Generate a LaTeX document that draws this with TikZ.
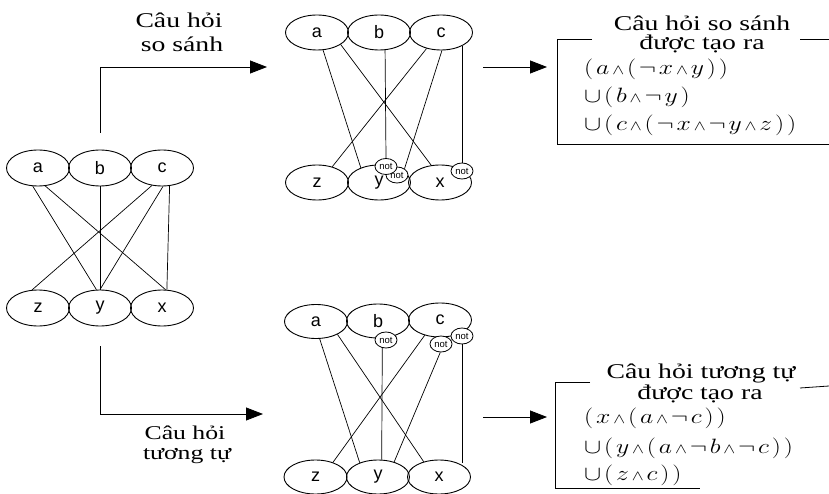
\documentclass[tikz,border=0pt]{standalone}
\usepackage{fontspec}
\setmainfont{Liberation Serif}[FakeStretch=1.32]
\newfontfamily\vertexfont{Liberation Sans}
\usepackage{graphicx}
\usetikzlibrary{arrows.meta,shapes.geometric}

\tikzset{
  vertex/.style={ellipse, draw, line width=0.9pt, minimum width=63pt,
    minimum height=35pt, inner sep=0pt,
    font=\vertexfont\fontsize{18}{18}\selectfont},
  negation/.style={ellipse, draw, fill=white, line width=0.8pt,
    minimum width=22pt, minimum height=16pt, inner sep=0pt,
    font=\vertexfont\fontsize{9.5}{9.5}\selectfont},
  link/.style={line width=0.7pt},
  flow/.style={line width=0.8pt, -{Triangle[length=17pt,width=13pt]}},
  caption/.style={anchor=base, inner sep=0pt,
    font=\fontsize{21}{25}\selectfont},
  formula/.style={anchor=base west, inner sep=0pt,
    font=\fontsize{20.74}{24}\selectfont},
  frame/.style={line width=0.8pt},
}

% loosely spaced formulas with a small conjunction sign
\newcommand{\kk}{\mkern2mu}
\newcommand{\conj}{{\scriptstyle\wedge}}
\newcommand{\wideformula}[1]{\scalebox{1.24}[1]{$#1$}}

\begin{document}
\begin{tikzpicture}[x=1pt,y=-1pt]
\useasboundingbox (0,0) rectangle (829,494);

% ---- original query graph (left)
\node[vertex, minimum height=36pt] (La) at (38,168)  {a};
\node[vertex, minimum height=36pt] (Lb) at (100,168) {b};
\node[vertex, minimum height=36pt] (Lc) at (162,168) {c};
\node[vertex, minimum height=36pt] (Lz) at (38,308)  {z};
\node[vertex, minimum height=36pt] (Ly) at (100,308) {y};
\node[vertex, minimum height=36pt] (Lx) at (162,308) {x};

\draw[link] (La.-106) -- (Ly.101);
\draw[link] (La.-68)  -- (Lx.79);
\draw[link] (Lb.-90)  -- (Ly.90);
\draw[link] (Lc.-120) -- (Lz.108);
\draw[link] (Lc.-87)  -- (Ly.90);
\draw[link] (Lc.-67)  -- (Lx.75);

% ---- comparison graph (top)
\node[vertex] (Ca) at (317,32.5)  {a};
\node[vertex] (Cb) at (379,32.5)  {b};
\node[vertex] (Cc) at (441,32.5)  {c};
\node[vertex] (Cz) at (317,182.5) {z};
\node[vertex] (Cy) at (379,182.5) {y};
\node[vertex] (Cx) at (440,182.5) {x};
\node[negation] (Cn2) at (397,175)   {not};
\node[negation] (Cn1) at (386,166.5) {not};
\node[negation] (Cn3) at (462,171)   {not};

\draw[link] (Ca.-71)  -- (Cy.141);
\draw[link] (Ca.-27)  -- (Cx.117);
\draw[link] (Cb.-71)  -- (Cn1.north);
\draw[link] (Cc.-132) -- (Cz.46);
\draw[link] (Cc.-87)  -- (Cn2.40);
\draw[link] (Cc.-35 -| Cn3.north) -- (Cn3.north);

% ---- similarity graph (bottom)
\node[vertex, minimum height=34pt] (Sa) at (316,321.5) {a};
\node[vertex, minimum height=34pt] (Sb) at (378,321)   {b};
\node[vertex, minimum height=34pt] (Sc) at (440,320)   {c};
\node[vertex, minimum height=34pt] (Sz) at (315.5,477) {z};
\node[vertex, minimum height=34pt] (Sy) at (378,477)   {y};
\node[vertex, minimum height=34pt] (Sx) at (439,477)   {x};
\node[negation] (Sn1) at (386,340) {not};
\node[negation] (Sn2) at (441,344) {not};
\node[negation] (Sn3) at (462,336) {not};

\draw[link] (Sa.-78)  -- (Sy.142);
\draw[link] (Sa.-31)  -- (Sx.135);
\draw[link] (Sn1.-115) -- (Sy.78);
\draw[link] (Sc.-135) -- (Sz.40);
\draw[link] (Sn2.-95) -- (Sy.43);
\draw[link] (Sn3.south) -- (Sn3.south |- Sx.35);

% ---- flow arrows
\coordinate (Cin)  at (267,67);
\coordinate (Sin)  at (263,414);
\coordinate (Cout) at (483,67);
\coordinate (Cres) at (547,67);
\coordinate (Sout) at (483,417);
\coordinate (Sres) at (547,417);

\draw[flow] ([yshift=17pt]Lb.north) |- (Cin);
\draw[flow] ([yshift=-20pt]Ly.south) |- (Sin);
\draw[flow] (Cout) -- (Cres);
\draw[flow] (Sout) -- (Sres);

% ---- captions on the arrows
\node[caption] (capC1) at (179,28)  {Câu hỏi};
\node[caption] (capC2) at (182,52)  {so sánh};
\node[caption, font=\fontsize{19.5}{22}\selectfont] (capS1) at (185,439) {Câu hỏi};
\node[caption, font=\fontsize{19.5}{22}\selectfont] (capS2) at (187,459) {tương tự};

% ---- generated comparison query
\draw[frame] (592,39.3) -- (557,39.3) -- (557,144) -- (829,144);
\draw[frame] (800,39.3) -- (829,39.3);
\node[caption] (resC1) at (702,31)   {Câu hỏi so sánh};
\node[caption] (resC2) at (702,50)   {được tạo ra};
\node[formula] (fC1) at (584,75) {\wideformula{(\kk a\kk\conj\kk(\kk\neg\kk x\kk\conj\kk y\kk)\kk)}};
\node[formula] (fC2) at (584,102.5) {\wideformula{\cup\kk(\kk b\kk\conj\kk\neg\kk y\kk)}};
\node[formula] (fC3) at (584,130.5) {\wideformula{\cup\kk(\kk c\kk\conj\kk(\kk\neg\kk x\kk\conj\kk\neg\kk y\kk\conj\kk z\kk)\kk)}};

% ---- generated similarity query
\draw[frame] (590,382) -- (555,382) -- (555,488) -- (700,488);
\draw[frame] (800,388) -- (829,386);
\node[caption] (resS1) at (701,378) {Câu hỏi tương tự};
\node[caption] (resS2) at (700,399) {được tạo ra};
\node[formula] (fS1) at (584,423.5) {\wideformula{(\kk x\kk\conj\kk(\kk a\kk\conj\kk\neg\kk c\kk)\kk)}};
\node[formula] (fS2) at (584,453) {\wideformula{\cup\kk(\kk y\kk\conj\kk(\kk a\kk\conj\kk\neg\kk b\kk\conj\kk\neg\kk c\kk)\kk)}};
\node[formula] (fS3) at (584,480) {\wideformula{\cup\kk(\kk z\kk\conj\kk c\kk)\kk)}};
\end{tikzpicture}
\end{document}
